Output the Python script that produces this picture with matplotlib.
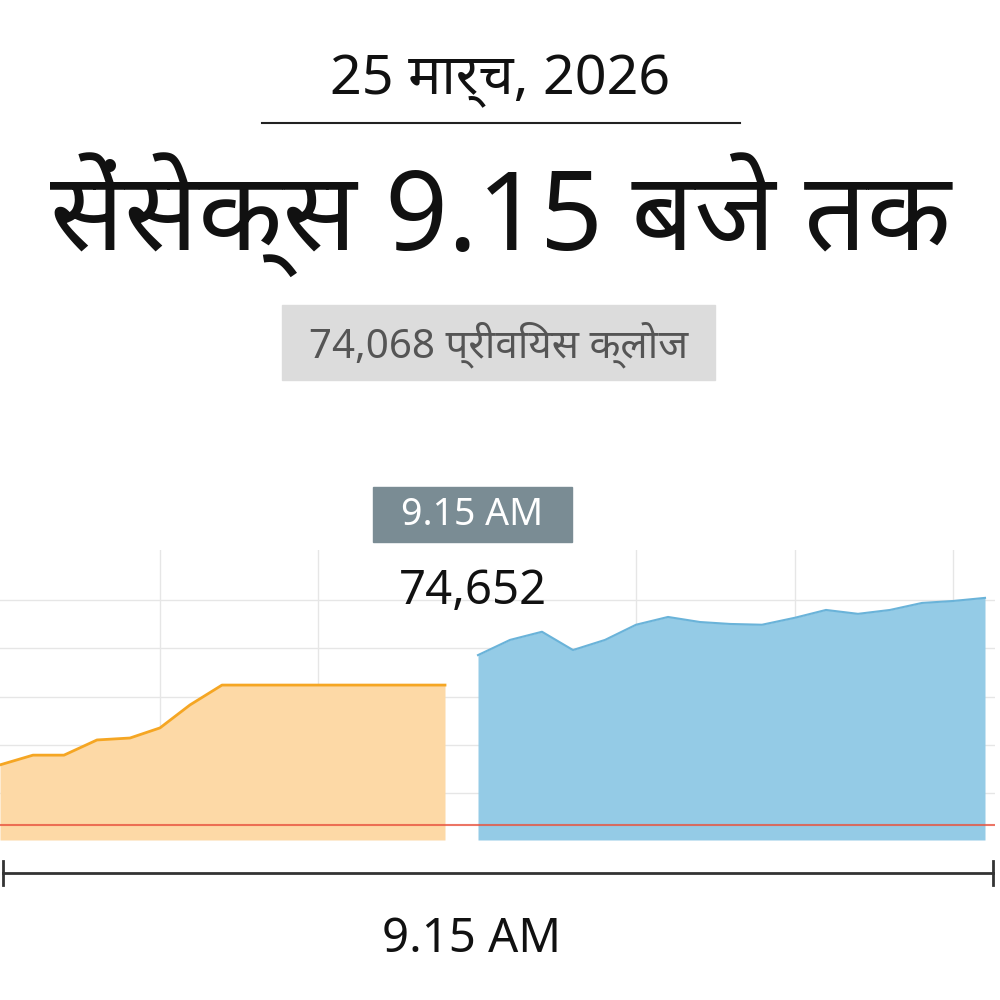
import matplotlib.pyplot as plt
from matplotlib.patches import Rectangle

plt.rcParams['font.family'] = ['Noto Sans', 'DejaVu Sans']

prev_close = 74068
last_value = 74652

# time position (index scale) and sensex values
pre_x = [0, 33, 64, 97, 130, 160, 190, 222, 290, 445]
pre_y = [74223, 74248, 74248, 74287, 74292, 74318, 74377, 74428, 74428, 74428]
open_x = [478, 510, 542, 573, 605, 636, 668, 700, 730, 762, 795, 826, 858, 890, 922, 953, 985]
open_y = [74505, 74544, 74565, 74518, 74544, 74583, 74603, 74590, 74585, 74583,
          74601, 74621, 74611, 74621, 74639, 74644, 74652]

fig = plt.figure(figsize=(10, 10), dpi=100)
ax = fig.add_axes([0, 0.16, 0.995, 0.29])
base = 74030
ax.fill_between(pre_x, pre_y, base, color='#fdd9a6', lw=0)
ax.plot(pre_x, pre_y, color='#f5a623', lw=2)
ax.fill_between(open_x, open_y, base, color='#94cbe6', lw=0)
ax.plot(open_x, open_y, color='#6ab3d9', lw=1.5)
ax.axhline(prev_close, color='#e8533f', lw=1.5, alpha=0.8, zorder=3)
ax.set_xlim(0, 995)
ax.set_ylim(base, 74775)
ax.set_xticks([160, 318, 636, 795, 953])
ax.set_yticks([74150, 74273, 74397, 74523, 74646])
ax.grid(color='#e6e6e6', lw=1)
ax.set_axisbelow(True)
ax.tick_params(length=0, labelbottom=False, labelleft=False)
for s in ax.spines.values():
    s.set_visible(False)

# timeline
fig.add_artist(plt.Line2D([0.003, 0.993], [0.127, 0.127], color='#333333', lw=2))
fig.add_artist(plt.Line2D([0.993, 0.993], [0.115, 0.139], color='#333333', lw=2))
fig.add_artist(plt.Line2D([0.003, 0.003], [0.115, 0.139], color='#333333', lw=2))
fig.text(0.472, 0.06, '9.15 AM', ha='center', va='center', fontsize=34, weight='bold', color='#111111')

# header texts
fig.text(0.5, 0.92, '25 मार्च, 2026', ha='center', va='center', fontsize=40, weight='bold', color='#111111')
fig.add_artist(plt.Line2D([0.262, 0.74], [0.877, 0.877], color='#222222', lw=1.5))
fig.text(0.5, 0.785, 'सेंसेक्स 9.15 बजे तक', ha='center', va='center', fontsize=79, weight='bold', color='#111111')
fig.add_artist(Rectangle((0.282, 0.62), 0.433, 0.075, color='#dcdcdc', transform=fig.transFigure))
fig.text(0.4985, 0.655, '74,068 प्रीवियस क्लोज', ha='center', va='center', fontsize=29, weight='bold', color='#555555')

# 9.15 marker
fig.add_artist(Rectangle((0.373, 0.458), 0.199, 0.055, color='#7a8c94', transform=fig.transFigure))
fig.text(0.4725, 0.485, '9.15 AM', ha='center', va='center', fontsize=27, weight='bold', color='white')
fig.text(0.4725, 0.408, f'{last_value:,}', ha='center', va='center', fontsize=34, color='#111111')

fig.savefig('out.png', dpi=100)
